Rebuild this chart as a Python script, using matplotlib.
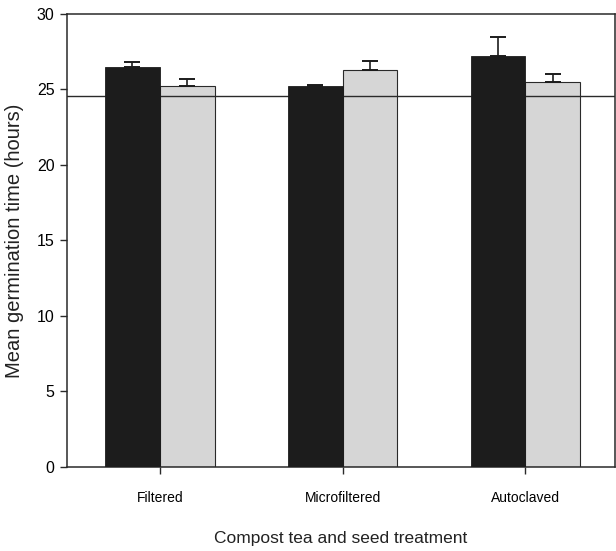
import matplotlib
matplotlib.use("Agg")
import matplotlib.pyplot as plt
import numpy as np

categories = ["Filtered", "Microfiltered", "Autoclaved"]
series_dark = [26.5, 25.2, 27.2]
series_dark_err = [0.35, 0.1, 1.3]
series_light = [25.2, 26.3, 25.5]
series_light_err = [0.5, 0.6, 0.5]
reference_level = 24.6
y_ticks = [0, 5, 10, 15, 20, 25, 30]

font = "Liberation Sans"

fig = plt.figure(figsize=(6.16, 5.51), dpi=100)
ax = fig.add_axes([0.1088, 0.1525, 0.8896, 0.8221])

x = np.arange(len(categories))
w = 0.30
ax.bar(x - w / 2, series_dark, width=w, color="#1c1c1c", edgecolor="#1c1c1c",
       linewidth=0.6, zorder=3)
ax.bar(x + w / 2, series_light, width=w, color="#d6d6d6", edgecolor="#2a2a2a",
       linewidth=0.8, zorder=2)
ax.axhline(reference_level, color="#2a2a2a", linewidth=1.0, zorder=2.5)

err_style = dict(fmt="none", ecolor="#1c1c1c", elinewidth=1.2, capsize=5.5,
                 capthick=1.4, zorder=4)
ax.errorbar(x - w / 2, series_dark, yerr=[np.zeros(3), series_dark_err], **err_style)
ax.errorbar(x + w / 2, series_light, yerr=[np.zeros(3), series_light_err], **err_style)

ax.set_ylim(0, 30)
ax.set_xlim(-0.508, 2.49)
ax.set_yticks(y_ticks)
ax.set_xticks(x)
ax.set_xticklabels(categories, fontfamily=font, fontsize=10)
for lbl in ax.get_yticklabels():
    lbl.set_fontfamily(font)
    lbl.set_fontsize(11.5)
ax.tick_params(direction="out", length=5, width=1, color="#2a2a2a", pad=4)
ax.tick_params(axis="x", pad=12)

for s in ax.spines.values():
    s.set_linewidth(1.1)
    s.set_color("#2a2a2a")

ax.set_ylabel("Mean germination time (hours)", fontfamily=font,
              fontsize=14.5, labelpad=9, color="#222222")
ax.set_xlabel("Compost tea and seed treatment", fontfamily=font, fontsize=12.5,
              labelpad=19, color="#222222")

fig.savefig("out.png", dpi=100)
